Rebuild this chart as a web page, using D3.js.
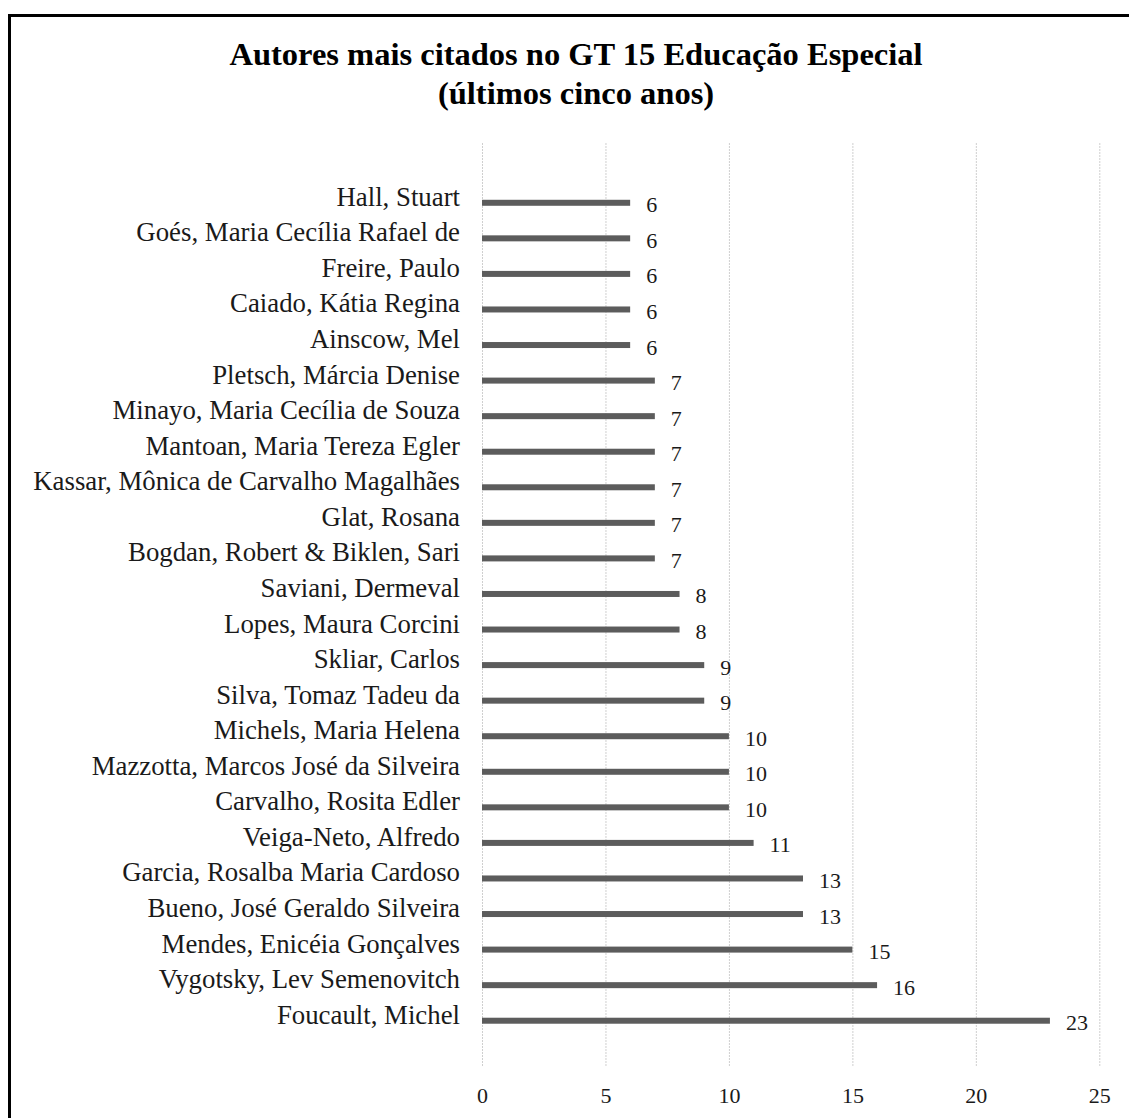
<!DOCTYPE html>
<html lang="pt">

<head>
    <meta charset="UTF-8">
    <title>Autores mais citados</title>
    <script src="https://d3js.org/d3.v7.min.js"></script>
    <style>
        body { margin: 0; background: #fff; }
        text { font-family: "Liberation Serif", "Times New Roman", serif; fill: #1a1a1a; }
    </style>
</head>

<body>
    <script>
        // autores (de cima para baixo, como no grafico)
        var autores = [
            "Hall, Stuart",
            "Goés, Maria Cecília Rafael de",
            "Freire, Paulo",
            "Caiado, Kátia Regina",
            "Ainscow, Mel",
            "Pletsch, Márcia Denise",
            "Minayo, Maria Cecília de Souza",
            "Mantoan, Maria Tereza Egler",
            "Kassar, Mônica de Carvalho Magalhães",
            "Glat, Rosana",
            "Bogdan, Robert & Biklen, Sari ",
            "Saviani, Dermeval",
            "Lopes, Maura Corcini",
            "Skliar, Carlos",
            "Silva, Tomaz Tadeu da",
            "Michels, Maria Helena",
            "Mazzotta, Marcos José da Silveira",
            "Carvalho, Rosita Edler",
            "Veiga-Neto, Alfredo",
            "Garcia, Rosalba Maria Cardoso",
            "Bueno, José Geraldo Silveira",
            "Mendes, Enicéia Gonçalves",
            "Vygotsky, Lev Semenovitch",
            "Foucault, Michel"
        ];
        var citacoes = [6, 6, 6, 6, 6, 7, 7, 7, 7, 7, 7, 8, 8, 9, 9, 10, 10, 10, 11, 13, 13, 15, 16, 23];
        var ticks = [0, 5, 10, 15, 20, 25];

        var width = 1129, height = 1118;
        var svg = d3.select("body")
            .append("svg")
            .attr("width", width)
            .attr("height", height);

        // moldura
        svg.append("rect")
            .attr("x", 9.5).attr("y", 15.5)
            .attr("width", 1300).attr("height", 1300)
            .attr("fill", "none")
            .attr("stroke", "#000")
            .attr("stroke-width", 3);

        // titulo
        var titulo = svg.append("text")
            .attr("x", 576)
            .attr("text-anchor", "middle")
            .style("font-size", "32.5px")
            .style("font-weight", "bold")
            .style("fill", "#000");
        titulo.append("tspan").attr("x", 576).attr("y", 65).text("Autores mais citados no GT 15 Educação Especial");
        titulo.append("tspan").attr("x", 576).attr("y", 104).text("(últimos cinco anos)");

        var x = d3.scaleLinear()
            .domain([0, 25])
            .range([482, 1099.3]);

        var y = d3.scaleBand()
            .domain(autores)
            .range([185, 1038.5]);

        // linhas de grade
        svg.selectAll(".grid")
            .data(ticks)
            .enter()
            .append("line")
            .attr("x1", d => x(d) + 0.5)
            .attr("x2", d => x(d) + 0.5)
            .attr("y1", 143)
            .attr("y2", 1067)
            .attr("stroke", "#cfcfcf")
            .attr("stroke-width", 1)
            .attr("stroke-dasharray", "2,1");

        // eixo x (so os rotulos)
        var eixo = svg.append("g")
            .attr("transform", "translate(0,1103)")
            .call(d3.axisBottom(x).tickValues(ticks).tickSize(0).tickPadding(0));
        eixo.select(".domain").remove();
        eixo.selectAll("text")
            .attr("y", 0)
            .attr("dy", 0)
            .style("font-family", "\"Liberation Serif\", serif")
            .style("font-size", "22px")
            .style("fill", "#1a1a1a");

        // eixo y (rotulos das categorias)
        var eixoY = svg.append("g")
            .attr("transform", "translate(460,0)")
            .call(d3.axisLeft(y).tickSize(0).tickPadding(0));
        eixoY.select(".domain").remove();
        eixoY.selectAll("text")
            .attr("x", 0)
            .attr("dy", 0)
            .attr("y", 3)
            .style("font-family", "\"Liberation Serif\", serif")
            .style("font-size", "26.8px")
            .style("fill", "#1a1a1a");
        eixoY.selectAll(".tick").attr("transform", d => "translate(0," + (y(d) + y.bandwidth() / 2) + ")");

        // barras
        svg.selectAll(".bar")
            .data(autores)
            .enter()
            .append("rect")
            .attr("x", x(0))
            .attr("y", d => y(d) + y.bandwidth() / 2 - 3)
            .attr("width", (d, i) => x(citacoes[i]) - x(0))
            .attr("height", 6)
            .attr("fill", "#5c5c5c");

        // rotulos de valor
        svg.selectAll(".valor")
            .data(autores)
            .enter()
            .append("text")
            .attr("x", (d, i) => x(citacoes[i]) + 16)
            .attr("y", d => y(d) + y.bandwidth() / 2 + 9.5)
            .style("font-size", "22px")
            .text((d, i) => citacoes[i]);
    </script>
</body>

</html>
